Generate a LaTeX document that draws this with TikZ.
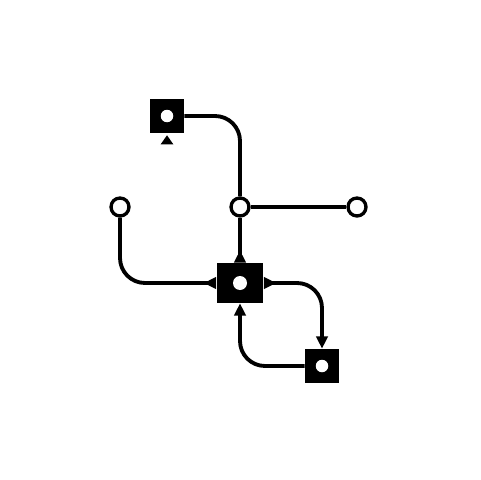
\documentclass[tikz,border=0pt]{standalone}
\usepackage{tikz}
\usetikzlibrary{shapes.geometric, positioning, arrows.meta}
\usepackage{xcolor}
\definecolor{WireBlack}{HTML}{000000}

\begin{document}
\begin{tikzpicture}[x=0.02cm, y=-0.02cm,
    wire/.style={WireBlack, line width=2.2pt},
    block/.style={draw=none, fill=WireBlack, inner sep=0pt},
    hole/.style={circle, fill=white, inner sep=0pt, minimum size=0.25cm},
    port/.style={circle, draw=WireBlack, fill=white, line width=1.9pt, inner sep=0pt, minimum size=0.36cm},
    headtip/.tip={Triangle[length=7pt, width=6.5pt]},
    backhead/.tip={Triangle[length=7pt, width=6.5pt, reversed]}]
    \useasboundingbox (0,0) rectangle (480,480);
    % blocks
    \node[block, minimum width=0.68cm, minimum height=0.68cm] (src) at (167,116) {};
    \node[hole] at (src) {};
    \node[block, minimum width=0.94cm, minimum height=0.8cm] (hub) at (240,283) {};
    \node[hole, minimum size=0.28cm] at (hub) {};
    \node[block, minimum width=0.68cm, minimum height=0.68cm] (sink) at (322,366) {};
    \node[hole] at (sink) {};
    \node[isosceles triangle, shape border rotate=90, isosceles triangle apex angle=70,
          fill=WireBlack, inner sep=0pt, minimum size=0.18cm] (mark) at (167,141) {};
    % ports
    \node[port] (pleft) at (120,207) {};
    \node[port] (pmid) at (240,207) {};
    \node[port] (pright) at (357,207) {};
    % wires
    \draw[wire, rounded corners=0.5cm] (src.east) -| (pmid.north);
    \draw[wire] (pmid.east) -- (pright.west);
    \draw[wire, -{backhead}] (pmid.south) -- (hub.north);
    \draw[wire, rounded corners=0.5cm, -{backhead}] (pleft.south) |- (hub.west);
    \draw[wire, rounded corners=0.5cm, {backhead}-{headtip}] (hub.east) -| (sink.north);
    \draw[wire, rounded corners=0.5cm, -{headtip}] (sink.west) -| (hub.south);
\end{tikzpicture}
\end{document}
